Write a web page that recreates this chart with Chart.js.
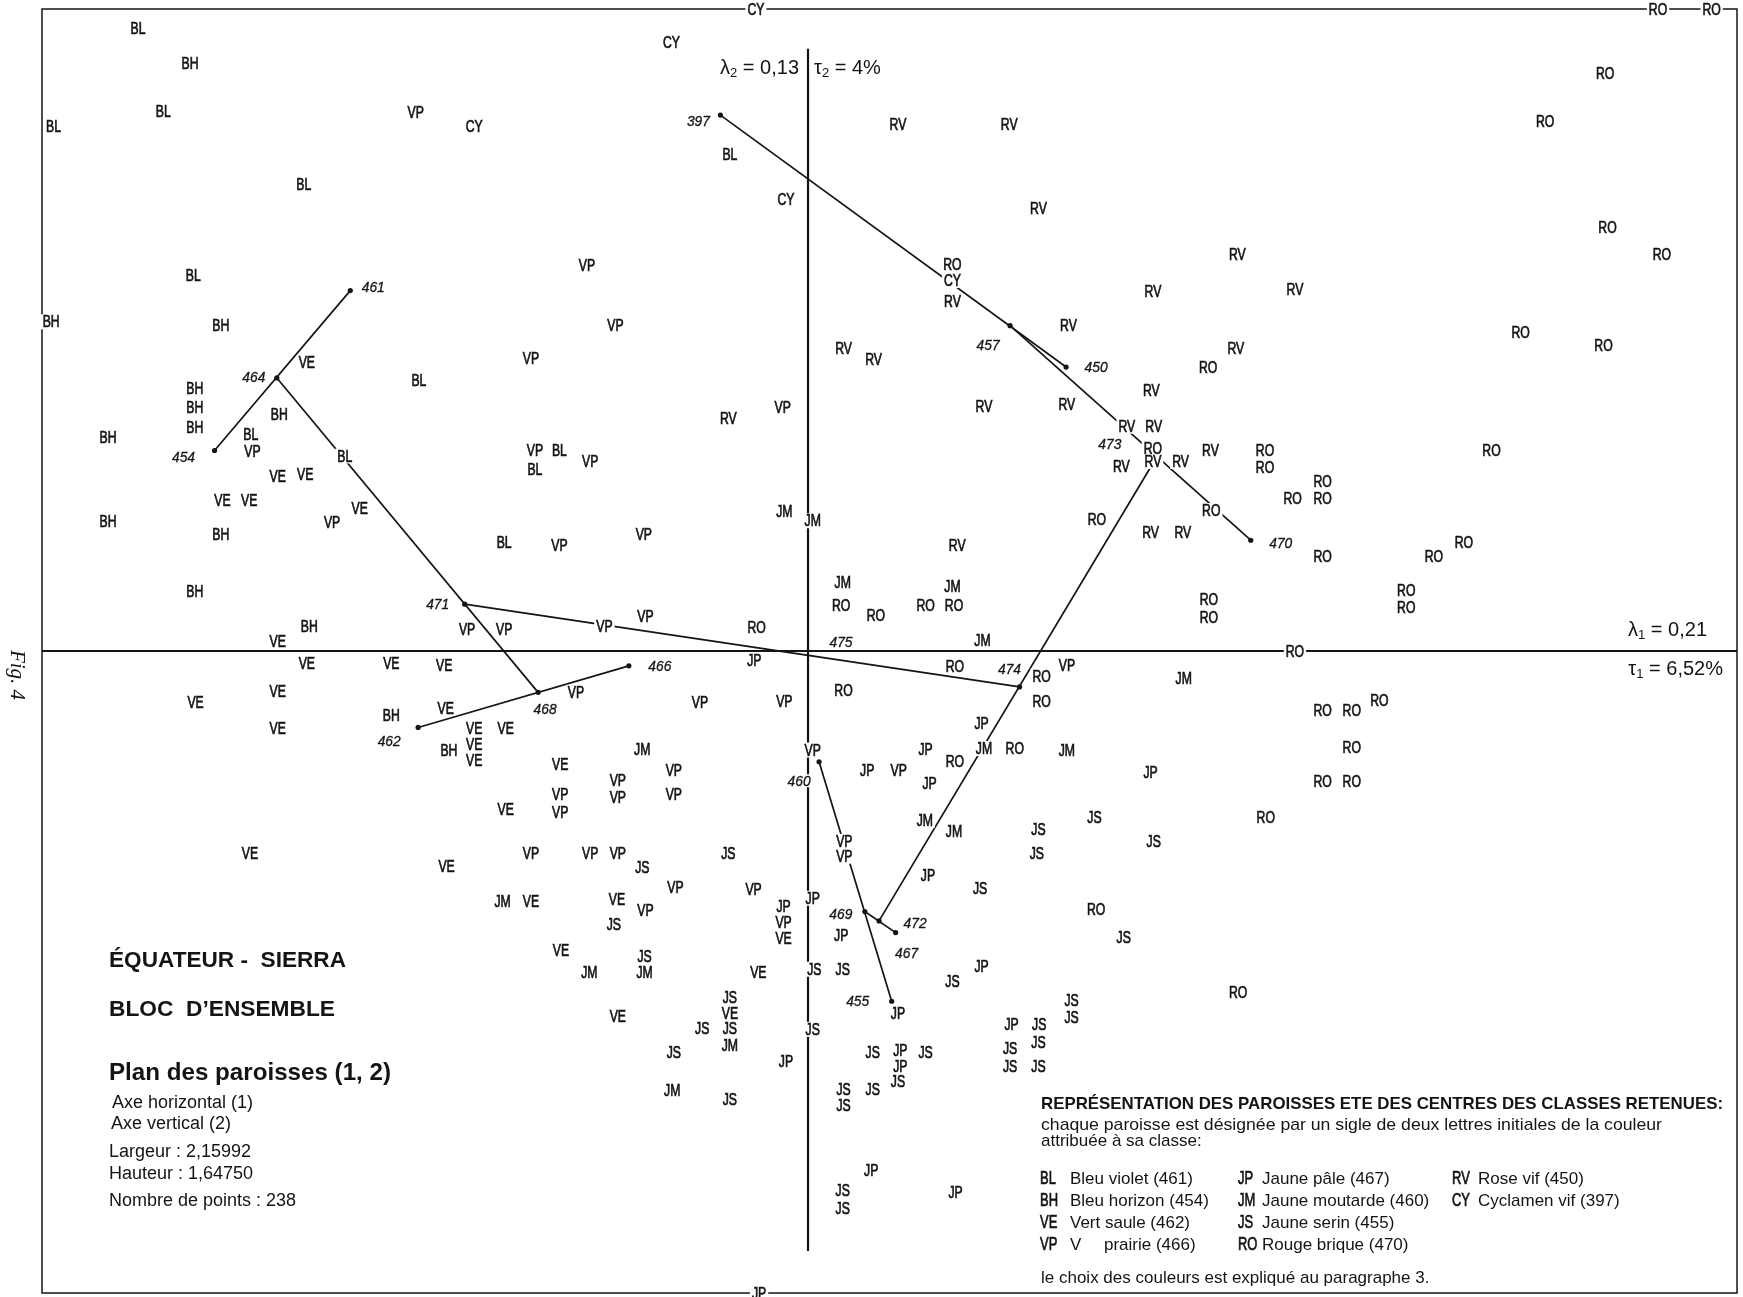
<!DOCTYPE html>
<html>
<head>
<meta charset="utf-8">
<script src="https://cdn.jsdelivr.net/npm/chart.js@4.4.0/dist/chart.umd.min.js"></script>
<style>
  html, body { margin: 0; padding: 0; background: #ffffff; }
  canvas { display: block; }
</style>
</head>
<body>
<canvas id="plan" width="1743" height="1297"></canvas>
<script>
// Plan factoriel (1, 2) : coordonnées des paroisses, regroupées par classe de couleur
const BL = [[-0.849,0.798],[-0.817,0.692],[-0.956,0.673],[-0.639,0.598],[-0.099,0.637],[-0.779,0.482],
  [-0.493,0.347],[-0.706,0.278],[-0.587,0.250],[-0.315,0.257],[-0.346,0.233],[-0.385,0.139]];
const BH = [[-0.783,0.753],[-0.959,0.422],[-0.744,0.417],[-0.777,0.337],[-0.777,0.313],[-0.777,0.287],
  [-0.670,0.303],[-0.887,0.274],[-0.887,0.166],[-0.744,0.150],[-0.777,0.076],[-0.632,0.032],
  [-0.528,-0.082],[-0.455,-0.127]];
const VE = [[-0.635,0.370],[-0.672,0.224],[-0.637,0.226],[-0.742,0.193],[-0.708,0.193],[-0.568,0.183],
  [-0.672,0.012],[-0.635,-0.016],[-0.528,-0.016],[-0.461,-0.018],[-0.776,-0.066],[-0.672,-0.052],
  [-0.672,-0.099],[-0.459,-0.073],[-0.423,-0.099],[-0.383,-0.099],[-0.423,-0.120],[-0.423,-0.140],
  [-0.314,-0.145],[-0.383,-0.203],[-0.707,-0.259],[-0.458,-0.276],[-0.351,-0.321],[-0.242,-0.318],
  [-0.031,-0.368],[-0.313,-0.384],[-0.063,-0.412],[-0.099,-0.464],[-0.241,-0.468]];
const VP = [[-0.497,0.690],[-0.280,0.494],[-0.244,0.418],[-0.351,0.375],[-0.032,0.313],[-0.704,0.256],
  [-0.346,0.257],[-0.276,0.243],[-0.603,0.165],[-0.208,0.150],[-0.315,0.136],[-0.206,0.045],
  [-0.432,0.028],[-0.385,0.028],[-0.258,0.032],[0.328,-0.018],[-0.294,-0.053],[-0.137,-0.066],
  [-0.030,-0.065],[0.006,-0.127],[-0.170,-0.153],[-0.241,-0.166],[-0.241,-0.187],[-0.170,-0.184],
  [-0.314,-0.184],[-0.314,-0.207],[0.115,-0.153],[0.046,-0.244],[0.046,-0.263],[-0.351,-0.259],
  [-0.276,-0.259],[-0.241,-0.259],[-0.168,-0.303],[-0.069,-0.306],[-0.206,-0.333],[-0.031,-0.348]];
const JM = [[-0.030,0.179],[0.006,0.167],[0.044,0.088],[0.183,0.083],[0.221,0.014],[0.476,-0.035],
  [0.223,-0.125],[0.328,-0.127],[-0.210,-0.126],[0.148,-0.217],[0.185,-0.231],[-0.387,-0.321],
  [-0.277,-0.412],[-0.207,-0.412],[-0.099,-0.505],[-0.172,-0.563]];
const JP = [[-0.068,-0.012],[0.220,-0.093],[0.149,-0.126],[0.075,-0.153],[0.154,-0.170],[0.434,-0.155],
  [0.152,-0.287],[-0.031,-0.327],[0.006,-0.317],[0.042,-0.364],[0.220,-0.404],[0.114,-0.465],
  [0.258,-0.479],[0.117,-0.512],[0.117,-0.532],[-0.028,-0.526],[0.080,-0.666],[0.187,-0.694],
  [-0.062,-0.823]];
const JS = [[0.292,-0.229],[0.363,-0.213],[0.290,-0.259],[0.438,-0.244],[-0.210,-0.277],[-0.101,-0.259],
  [0.218,-0.304],[-0.246,-0.350],[0.400,-0.367],[-0.207,-0.391],[0.008,-0.408],[0.044,-0.408],
  [0.183,-0.424],[-0.099,-0.444],[-0.134,-0.484],[-0.099,-0.484],[0.006,-0.485],[0.334,-0.448],
  [0.334,-0.469],[0.293,-0.479],[-0.170,-0.514],[0.292,-0.501],[0.256,-0.509],[0.082,-0.514],
  [0.149,-0.514],[0.256,-0.532],[0.292,-0.532],[0.045,-0.562],[0.082,-0.562],[0.114,-0.552],
  [0.045,-0.583],[-0.099,-0.575],[0.044,-0.692],[0.044,-0.714]];
const RO = [[1.010,0.740],[0.934,0.679],[1.013,0.543],[1.082,0.509],[0.183,0.496],[0.903,0.408],
  [1.008,0.392],[0.507,0.364],[0.437,0.260],[0.579,0.257],[0.579,0.236],[0.866,0.257],
  [0.652,0.217],[0.652,0.196],[0.614,0.196],[0.511,0.180],[0.366,0.169],[0.831,0.139],
  [0.793,0.122],[0.652,0.122],[0.042,0.059],[0.086,0.046],[0.149,0.058],[0.185,0.058],
  [0.758,0.078],[0.758,0.056],[0.508,0.066],[0.508,0.043],[-0.065,0.031],[0.617,0.000],
  [0.186,-0.019],[0.296,-0.032],[0.045,-0.051],[0.296,-0.065],[0.652,-0.076],[0.689,-0.076],
  [0.724,-0.063],[0.262,-0.125],[0.186,-0.142],[0.689,-0.123],[0.652,-0.167],[0.689,-0.167],
  [0.580,-0.213],[0.365,-0.331],[0.545,-0.437],[1.077,0.823],[1.145,0.823]];
const RV = [[0.114,0.675],[0.255,0.675],[0.292,0.568],[0.544,0.508],[0.183,0.448],[0.437,0.461],
  [0.617,0.464],[0.330,0.418],[0.542,0.388],[0.045,0.388],[0.083,0.374],[0.435,0.334],
  [0.223,0.314],[0.328,0.316],[-0.101,0.298],[0.404,0.288],[0.438,0.288],[0.397,0.237],
  [0.437,0.243],[0.472,0.243],[0.510,0.257],[0.434,0.152],[0.475,0.152],[0.189,0.135]];
const CY = [[-0.173,0.780],[-0.423,0.672],[-0.028,0.579],[0.183,0.475],[-0.066,0.823]];

const CLASS_CODES = ['BL', 'BH', 'VE', 'VP', 'JM', 'JP', 'JS', 'RO', 'RV', 'CY'];
const CLASS_POINTS = { BL, BH, VE, VP, JM, JP, JS, RO, RV, CY };

// Centres des classes retenues et agrégations successives
const NODE_IDS = ['397', '450', '457', '470', '473', '461', '454', '464', '462', '466',
  '468', '471', '460', '455', '469', '467', '472', '474', '475'];
const NODE_X = [-0.111, 0.327, 0.256, 0.561, 0.442, -0.580, -0.752, -0.673, -0.494, -0.227,
  -0.342, -0.435, 0.014, 0.106, 0.072, 0.111, 0.090, 0.268, 0.000];
const NODE_Y = [0.687, 0.364, 0.417, 0.142, 0.249, 0.462, 0.257, 0.350, -0.098, -0.019,
  -0.053, 0.060, -0.142, -0.449, -0.334, -0.361, -0.346, -0.046, -0.005];
// [nœud, premier élément, second élément]
const MERGES = [['464', '461', '454'], ['468', '462', '466'], ['471', '464', '468'],
  ['457', '397', '450'], ['473', '457', '470'], ['469', '460', '455'],
  ['472', '469', '467'], ['474', '473', '472'], ['475', '471', '474']];

// Étendue du cadre et de l'axe vertical, en unités factorielles
const X_RANGE = [-0.9706, 1.1771];
const Y_RANGE = [-0.823, 0.823];
const V_AXIS_SPAN = [-0.769, 0.772];

const LEGEND_ROWS = [
  [['BL', 'Bleu violet (461)'], ['JP', 'Jaune pâle (467)'], ['RV', 'Rose vif (450)']],
  [['BH', 'Bleu horizon (454)'], ['JM', 'Jaune moutarde (460)'], ['CY', 'Cyclamen vif (397)']],
  [['VE', 'Vert saule (462)'], ['JS', 'Jaune serin (455)'], null],
  [['VP', 'V|prairie (466)'], ['RO', 'Rouge brique (470)'], null]
];

// ---- styles ----
const INK = '#141414';
const SANS = '"Liberation Sans", Arial, sans-serif';
const CODE_FONT = '17px ' + SANS;
const CODE_SX = 0.72;
const CODE_WEIGHT = 0.7;
const NUM_FONT = 'italic 15px ' + SANS;
const NUM_SX = 0.92;
const NODE_LABEL_OFFSET = {
  '397': [-22, 6], '461': [23, -4], '464': [-23, -1], '454': [-31, 6], '471': [-27, 0],
  '468': [7, 16], '466': [31, 0], '462': [-29, 13], '475': [33, -13], '474': [-10, -18],
  '473': [-47, -13], '457': [-22, 19], '450': [30, 0], '470': [30, 3], '472': [36, 2],
  '469': [-24, 2], '467': [11, 20], '460': [-20, 19], '455': [-34, 0]
};
const NODES_WITHOUT_DOT = ['473', '475'];

function nodeIndex(id) { return NODE_IDS.indexOf(id); }

function drawRuns(ctx, runs, x, y, align) {
  let total = 0;
  runs.forEach(r => {
    ctx.font = r.font;
    r.w = ctx.measureText(r.t).width * (r.sx || 1);
    total += r.w;
  });
  let cx = align === 'right' ? x - total : (align === 'center' ? x - total / 2 : x);
  runs.forEach(r => {
    ctx.save();
    ctx.font = r.font;
    ctx.fillStyle = INK;
    ctx.strokeStyle = INK;
    ctx.textAlign = 'left';
    ctx.textBaseline = 'middle';
    ctx.translate(cx, y + (r.dy || 0));
    ctx.scale(r.sx || 1, 1);
    ctx.fillText(r.t, 0, 0);
    if (r.stroke) { ctx.lineWidth = r.stroke; ctx.strokeText(r.t, 0, 0); }
    ctx.restore();
    cx += r.w;
  });
}

function drawFitted(ctx, text, x, y, font, width) {
  ctx.save();
  ctx.font = font;
  const sx = width ? width / ctx.measureText(text).width : 1;
  ctx.fillStyle = INK;
  ctx.textAlign = 'left';
  ctx.textBaseline = 'middle';
  ctx.translate(x, y);
  ctx.scale(sx, 1);
  ctx.fillText(text, 0, 0);
  ctx.restore();
}

// ---- datasets ----
const datasets = [];
MERGES.forEach(m => {
  const a = nodeIndex(m[1]), b = nodeIndex(m[2]);
  datasets.push({
    type: 'line',
    data: [{ x: NODE_X[a], y: NODE_Y[a] }, { x: NODE_X[b], y: NODE_Y[b] }],
    borderColor: INK, borderWidth: 1.7, pointRadius: 0, fill: false, tension: 0
  });
});
datasets.push({
  type: 'scatter',
  data: NODE_IDS.map((id, i) => ({ x: NODE_X[i], y: NODE_Y[i] })),
  pointRadius: NODE_IDS.map(id => NODES_WITHOUT_DOT.includes(id) ? 0 : 2.6),
  pointBackgroundColor: INK, pointBorderWidth: 0
});
CLASS_CODES.forEach(code => {
  datasets.push({
    type: 'scatter',
    code: code,
    data: CLASS_POINTS[code].map(p => ({ x: p[0], y: p[1] })),
    pointRadius: 0
  });
});

// ---- plugins ----
const frameAndAxes = {
  id: 'frameAndAxes',
  beforeDatasetsDraw(chart) {
    const { ctx, chartArea: a, scales } = chart;
    const x0 = scales.x.getPixelForValue(0);
    const y0 = scales.y.getPixelForValue(0);
    ctx.save();
    ctx.strokeStyle = INK;
    ctx.lineWidth = 1.5;
    ctx.strokeRect(a.left, a.top, a.right - a.left, a.bottom - a.top);
    ctx.lineWidth = 2.2;
    ctx.beginPath();
    ctx.moveTo(a.left, y0); ctx.lineTo(a.right, y0);
    ctx.moveTo(x0, scales.y.getPixelForValue(V_AXIS_SPAN[1]));
    ctx.lineTo(x0, scales.y.getPixelForValue(V_AXIS_SPAN[0]));
    ctx.stroke();
    ctx.restore();
  }
};

const pointLabels = {
  id: 'pointLabels',
  afterDatasetsDraw(chart) {
    const { ctx, scales } = chart;
    const items = [];
    chart.data.datasets.forEach((ds, i) => {
      if (!ds.code) return;
      chart.getDatasetMeta(i).data.forEach(el => {
        items.push({ t: ds.code, x: el.x, y: el.y, font: CODE_FONT, sx: CODE_SX, h: 15, stroke: CODE_WEIGHT });
      });
    });
    NODE_IDS.forEach((id, i) => {
      const off = NODE_LABEL_OFFSET[id];
      items.push({
        t: id, font: NUM_FONT, sx: NUM_SX, h: 13, stroke: 0.3,
        x: scales.x.getPixelForValue(NODE_X[i]) + off[0],
        y: scales.y.getPixelForValue(NODE_Y[i]) + off[1]
      });
    });
    ctx.save();
    items.forEach(it => { ctx.font = it.font; it.w = ctx.measureText(it.t).width * it.sx; });
    ctx.fillStyle = '#ffffff';
    items.forEach(it => ctx.fillRect(it.x - it.w / 2 - 2, it.y - it.h / 2, it.w + 4, it.h));
    ctx.fillStyle = INK;
    ctx.strokeStyle = INK;
    ctx.textAlign = 'center';
    ctx.textBaseline = 'middle';
    items.forEach(it => {
      ctx.save();
      ctx.font = it.font;
      ctx.translate(it.x, it.y + 1);
      ctx.scale(it.sx, 1);
      ctx.fillText(it.t, 0, 0);
      ctx.lineWidth = it.stroke;
      ctx.strokeText(it.t, 0, 0);
      ctx.restore();
    });
    ctx.restore();
  }
};

const annotations = {
  id: 'annotations',
  afterDraw(chart) {
    const { ctx, chartArea: a, scales } = chart;
    const x0 = scales.x.getPixelForValue(0);
    const y0 = scales.y.getPixelForValue(0);
    const big = '20px ' + SANS, sub = '13px ' + SANS;

    // valeurs propres et taux d'inertie
    drawRuns(ctx, [{ t: 'λ', font: big }, { t: '2', font: sub, dy: 5 }, { t: ' = 0,13', font: big }], x0 - 9, a.top + 59, 'right');
    drawRuns(ctx, [{ t: 'τ', font: big }, { t: '2', font: sub, dy: 5 }, { t: ' = 4%', font: big }], x0 + 6, a.top + 59, 'left');
    drawRuns(ctx, [{ t: 'λ', font: big }, { t: '1', font: sub, dy: 5 }, { t: ' = 0,21', font: big }], a.right - 30, y0 - 21, 'right');
    drawRuns(ctx, [{ t: 'τ', font: big }, { t: '1', font: sub, dy: 5 }, { t: ' = 6,52%', font: big }], a.right - 14, y0 + 18, 'right');

    // numéro de figure, imprimé en travers
    ctx.save();
    ctx.translate(17, 675);
    ctx.rotate(Math.PI / 2);
    ctx.font = 'italic 21px "Liberation Serif", "DejaVu Serif", serif';
    ctx.fillStyle = INK;
    ctx.textAlign = 'center';
    ctx.textBaseline = 'middle';
    ctx.fillText('Fig. 4', 0, 0);
    ctx.restore();

    // titre
    const bold = 'bold 22px ' + SANS;
    drawFitted(ctx, 'ÉQUATEUR -  SIERRA', 109, 961, bold, 237);
    drawFitted(ctx, 'BLOC  D’ENSEMBLE', 109, 1010, bold, 226);
    drawFitted(ctx, 'Plan des paroisses (1, 2)', 109, 1073, 'bold 24px ' + SANS, 282);
    const reg = '18px ' + SANS;
    drawFitted(ctx, 'Axe horizontal (1)', 112, 1103, reg);
    drawFitted(ctx, 'Axe vertical (2)', 111, 1124, reg);
    drawFitted(ctx, 'Largeur : 2,15992', 109, 1152, reg);
    drawFitted(ctx, 'Hauteur : 1,64750', 109, 1174, reg);
    drawFitted(ctx, 'Nombre de points : 238', 109, 1201, reg);

    // légende des classes
    const lx = 1041;
    drawFitted(ctx, 'REPRÉSENTATION DES PAROISSES ETE DES CENTRES DES CLASSES RETENUES:', lx, 1104, 'bold 17px ' + SANS, 682);
    drawFitted(ctx, 'chaque paroisse est désignée par un sigle de deux lettres initiales de la couleur', lx, 1125, '17px ' + SANS, 621);
    drawFitted(ctx, 'attribuée à sa classe:', lx, 1141, '17px ' + SANS);
    const colCode = [1040, 1238, 1452];
    const colText = [1070, 1262, 1478];
    const rowY = [1179, 1201, 1223, 1245];
    LEGEND_ROWS.forEach((row, r) => {
      row.forEach((cell, c) => {
        if (!cell) return;
        drawRuns(ctx, [{ t: cell[0], font: '18px ' + SANS, sx: CODE_SX, stroke: CODE_WEIGHT }], colCode[c], rowY[r], 'left');
        const parts = cell[1].split('|');
        drawFitted(ctx, parts[0], colText[c], rowY[r], '17px ' + SANS);
        if (parts.length === 2) {
          drawFitted(ctx, parts[1], colText[c] + 34, rowY[r], '17px ' + SANS);
        }
      });
    });
    drawFitted(ctx, 'le choix des couleurs est expliqué au paragraphe 3.', lx, 1278, '17px ' + SANS);
  }
};

new Chart(document.getElementById('plan'), {
  data: { datasets },
  options: {
    responsive: false,
    animation: false,
    events: [],
    layout: { padding: { left: 42, top: 9, right: 6, bottom: 4 } },
    plugins: { legend: { display: false }, tooltip: { enabled: false } },
    scales: {
      x: { type: 'linear', min: X_RANGE[0], max: X_RANGE[1], display: false },
      y: { type: 'linear', min: Y_RANGE[0], max: Y_RANGE[1], display: false }
    }
  },
  plugins: [frameAndAxes, pointLabels, annotations]
});
</script>
</body>
</html>
